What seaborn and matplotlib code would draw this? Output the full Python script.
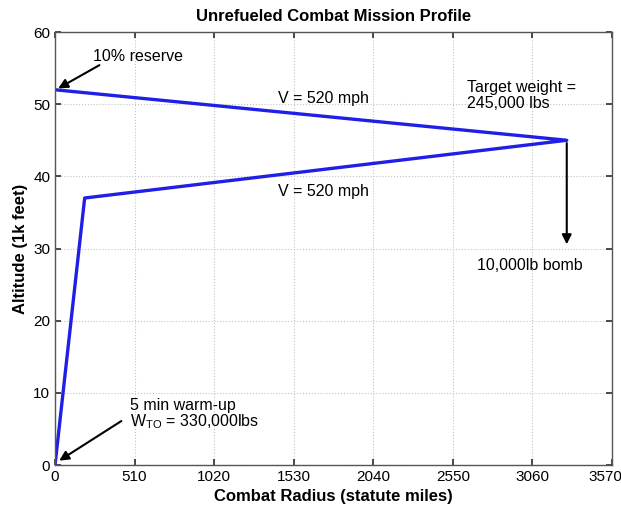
import matplotlib
matplotlib.use("Agg")
import matplotlib.pyplot as plt
import matplotlib.transforms as mtransforms
import seaborn as sns
import pandas as pd

# Data
radius = [0, 190, 3280, 0]
altitude = [0, 37, 45, 52]
order = [0, 1, 2, 3]
xticks = [0, 510, 1020, 1530, 2040, 2550, 3060, 3570]
yticks = [0, 10, 20, 30, 40, 50, 60]

sns.set_theme(style="white")
plt.rcParams['font.family'] = ['Liberation Sans', 'DejaVu Sans']
plt.rcParams['text.color'] = 'black'
plt.rcParams['axes.labelcolor'] = 'black'
plt.rcParams['xtick.color'] = 'black'
plt.rcParams['ytick.color'] = 'black'

df = pd.DataFrame({"radius": radius, "altitude": altitude, "order": order})

fig = plt.figure(figsize=(6.21, 5.14), dpi=100)
ax = fig.add_axes([0.0886, 0.0953, 0.8969, 0.8424])

sns.lineplot(data=df, x="radius", y="altitude", sort=False, estimator=None,
             color="#1f1fe6", linewidth=2.4, ax=ax)

ax.set_xlim(0, 3570)
ax.set_ylim(0, 60)
ax.set_xticks(xticks)
ax.set_yticks(yticks)
ax.grid(True, linestyle=":", color="#c4c4c4", linewidth=0.8)
ax.tick_params(direction="in", top=True, right=True, labelsize=11, length=4,
               color="#333333", bottom=True, left=True)
for s in ax.spines.values():
    s.set_color("#555555")
    s.set_linewidth(1.0)

# nudge last x tick label so it stays inside the figure
last = ax.get_xticklabels()[-1]
last.set_transform(last.get_transform() + mtransforms.ScaledTranslation(-5/72, 0, fig.dpi_scale_trans))

ax.set_title("Unrefueled Combat Mission Profile", fontsize=12, fontweight="bold", pad=8)
ax.set_xlabel("Combat Radius (statute miles)", fontsize=12, fontweight="bold")
ax.set_ylabel("Altitude (1k feet)", fontsize=12, fontweight="bold")

arrow = dict(arrowstyle="-|>", color="black", lw=1.5, mutation_scale=14)
ax.annotate("", xy=(5, 52), xytext=(300, 55.6), arrowprops=arrow)
ax.text(244, 56.6, "10% reserve", fontsize=11.5, va="center", ha="left")
ax.text(1430, 50.8, "V = 520 mph", fontsize=11.5, va="center", ha="left")
ax.text(1430, 37.9, "V = 520 mph", fontsize=11.5, va="center", ha="left")
ax.text(2641, 52.3, "Target weight =", fontsize=11.5, va="center", ha="left")
ax.text(2641, 50.1, "245,000 lbs", fontsize=11.5, va="center", ha="left")
ax.annotate("", xy=(3280, 30.2), xytext=(3280, 45), arrowprops=arrow)
ax.text(2705, 27.7, "10,000lb bomb", fontsize=11.5, va="center", ha="left")
ax.annotate("", xy=(12, 0.4), xytext=(440, 6.3), arrowprops=arrow)
ax.text(481, 8.3, "5 min warm-up", fontsize=11.5, va="center", ha="left")
ax.text(481, 6.0, r"W$_{\mathregular{TO}}$ = 330,000lbs", fontsize=11.5, va="center", ha="left")

fig.savefig("out.png", dpi=100)
